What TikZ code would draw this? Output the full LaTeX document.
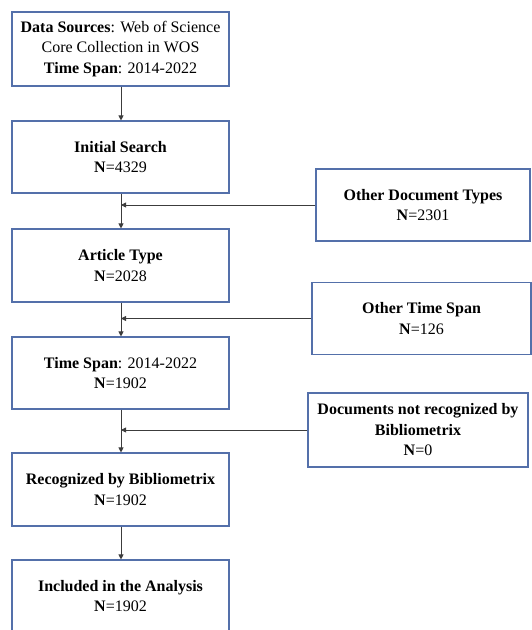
\documentclass[tikz,border=0pt]{standalone}
\usepackage{fontspec}
\setmainfont{Liberation Serif}
\usetikzlibrary{arrows.meta}
\definecolor{boxblue}{RGB}{84,112,170}
\definecolor{linegray}{RGB}{60,60,60}
\begin{document}
\begin{tikzpicture}[x=1pt,y=-1pt,
  box/.style={draw=boxblue,line width=1.1pt,fill=white,inner sep=0pt,align=center,
    font=\fontsize{16}{20.5}\selectfont},
  conn/.style={draw=linegray,line width=0.8pt,-{Triangle[width=5pt,length=5pt]}}]
\useasboundingbox (0,0) rectangle (532,630);
\node[box,minimum width=217pt,minimum height=74pt] (b1) at (120.5,49)
  {\textbf{Data Sources}: Web of Science\\Core Collection in WOS\\\textbf{Time Span}: 2014-2022};
\node[box,minimum width=217pt,minimum height=72pt] (b2) at (120.5,157)
  {\textbf{Initial Search}\\\textbf{N}=4329};
\node[box,minimum width=217pt,minimum height=73pt] (b3) at (120.5,265.5)
  {\textbf{Article Type}\\\textbf{N}=2028};
\node[box,minimum width=217pt,minimum height=72pt] (b4) at (120.5,373)
  {\textbf{Time Span}: 2014-2022\\\textbf{N}=1902};
\node[box,minimum width=217pt,minimum height=73pt] (b5) at (120.5,489.5)
  {\textbf{Recognized by Bibliometrix}\\\textbf{N}=1902};
\node[box,minimum width=217pt,minimum height=72pt] (b6) at (120.5,596)
  {\textbf{Included in the Analysis}\\\textbf{N}=1902};
\node[box,minimum width=214pt,minimum height=72pt] (s1) at (423,205)
  {\textbf{Other Document Types}\\\textbf{N}=2301};
\node[box,minimum width=219pt,minimum height=72pt] (s2) at (421.5,318.5)
  {\textbf{Other Time Span}\\\textbf{N}=126};
\node[box,minimum width=220pt,minimum height=74pt] (s3) at (418,430)
  {\textbf{Documents not recognized by}\\\textbf{Bibliometrix}\\\textbf{N}=0};
\coordinate (j1) at (121,205);
\coordinate (j2) at (121,318.5);
\coordinate (j3) at (121,430);
\draw[conn] (b1.south -| 121,0) -- (b2.north -| 121,0);
\draw[conn] (b2.south -| 121,0) -- (b3.north -| 121,0);
\draw[conn] (b3.south -| 121,0) -- (b4.north -| 121,0);
\draw[conn] (b4.south -| 121,0) -- (b5.north -| 121,0);
\draw[conn] (b5.south -| 121,0) -- (b6.north -| 121,0);
\draw[conn] (s1.west) -- (j1);
\draw[conn] (s2.west) -- (j2);
\draw[conn] (s3.west) -- (j3);
\end{tikzpicture}
\end{document}
